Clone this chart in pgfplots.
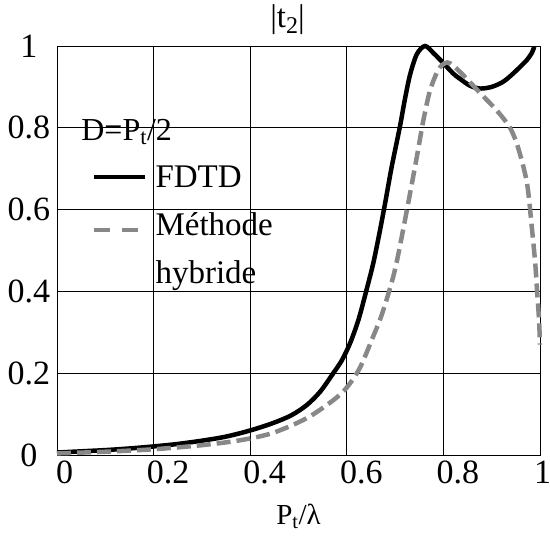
\documentclass[border=0pt]{standalone}
\usepackage{fontspec}
\setmainfont{Liberation Serif}
\usepackage{pgfplots}
\pgfplotsset{compat=1.18}
\definecolor{dgray}{RGB}{136,136,136}
\begin{document}
\begin{tikzpicture}
\begin{axis}[
  scale only axis, width=483pt, height=409pt,
  xmin=0, xmax=1, ymin=0, ymax=1,
  clip=false,
  xtick={0,0.2,0.4,0.6,0.8,1}, ytick={0,0.2,0.4,0.6,0.8,1},
  xticklabels={\hspace*{6pt}0,0.2,0.4,0.6,0.8,\hspace*{1pt}1},
  yticklabels={0,0.2,0.4,0.6,0.8,1},
  grid=major, major grid style={black, line width=0.8pt},
  major tick length=0pt,
  axis line style={black, line width=0.9pt},
  xticklabel style={anchor=north west, inner sep=0pt, xshift=-7pt, yshift=-6pt, font=\fontsize{34}{40}\selectfont},
  yticklabel style={anchor=center, inner sep=0pt, xshift=-28pt, font=\fontsize{34}{40}\selectfont},
  xlabel={P\textsubscript{t}/λ},
  xlabel style={at={(axis description cs:0.5,0)}, anchor=north, inner sep=0pt, yshift=-49pt, font=\fontsize{29}{34}\selectfont},
  title={|t\raisebox{-0.16em}{\fontsize{24}{26}\selectfont 2}|},
  title style={at={(axis description cs:0.5,1)}, anchor=base, inner sep=0pt, yshift=12pt, xshift=-11pt, font=\fontsize{33}{36}\selectfont},
  legend style={at={(axis cs:0.0725,0.7066)}, anchor=north west, draw=none, fill=none,
    inner sep=0pt, outer sep=0pt, row sep=18pt, column sep=8pt,
    nodes={inner sep=0pt, text height=22pt, text depth=8pt, font=\fontsize{33}{40}\selectfont}},
  legend cell align=left,
]
\coordinate (sw) at (rel axis cs:0,0);
\coordinate (ne) at (rel axis cs:1,1);
\addplot[black, line width=4.5pt, smooth,
  legend image code/.code={\draw[black, line width=4.5pt] (0pt,4pt) -- (51pt,4pt);}]
  coordinates {
(0,0.006) (0.05,0.009) (0.1,0.012) (0.15,0.016) (0.2,0.021) (0.25,0.027)
(0.3,0.035) (0.35,0.045) (0.4,0.06) (0.447,0.078) (0.485,0.097) (0.517,0.122) (0.545,0.155)
(0.572,0.2) (0.59,0.232) (0.607,0.274) (0.624,0.33) (0.64,0.40) (0.655,0.47) (0.668,0.545)
(0.68,0.62) (0.693,0.705) (0.71,0.803) (0.72,0.868) (0.731,0.93) (0.745,0.98)
(0.762,1.0) (0.78,0.982) (0.8,0.958) (0.82,0.933) (0.834,0.92) (0.855,0.903) (0.876,0.896)
(0.9,0.9) (0.923,0.912) (0.94,0.928) (0.958,0.948) (0.973,0.966) (0.983,0.983) (0.988,0.998)
};
\addlegendentry{FDTD}
\addplot[dgray, line width=4.5pt, smooth, dash pattern=on 14pt off 6pt,
  legend image code/.code={\draw[dgray, line width=4.5pt, dash pattern=on 16pt off 12pt] (0pt,-1pt) -- (46pt,-1pt);}]
  coordinates {
(0,0.004) (0.1,0.008) (0.2,0.014) (0.3,0.024) (0.379,0.036) (0.447,0.054)
(0.517,0.09) (0.572,0.134) (0.6,0.165) (0.627,0.213) (0.654,0.288) (0.67,0.335)
(0.685,0.39) (0.697,0.44) (0.707,0.493) (0.727,0.615) (0.745,0.729) (0.758,0.815)
(0.772,0.89) (0.789,0.941) (0.803,0.958) (0.815,0.957) (0.84,0.93) (0.876,0.885)
(0.91,0.843) (0.938,0.80) (0.955,0.75) (0.973,0.665) (0.983,0.557) (0.99,0.47)
(0.994,0.40) (0.998,0.33) (1.0,0.27)
};
\addlegendentry{Méthode}
\addlegendimage{empty legend}
\addlegendentry{hybride}
\node[anchor=base west, inner sep=0pt, font=\fontsize{32}{38}\selectfont] at (axis cs:0.05,0.77) {D=P\textsubscript{t}/2};
\end{axis}
\pgfresetboundingbox
\path ([shift={(-57pt,-85pt)}]sw) rectangle ([shift={(10pt,46pt)}]ne);
\end{tikzpicture}
\end{document}
